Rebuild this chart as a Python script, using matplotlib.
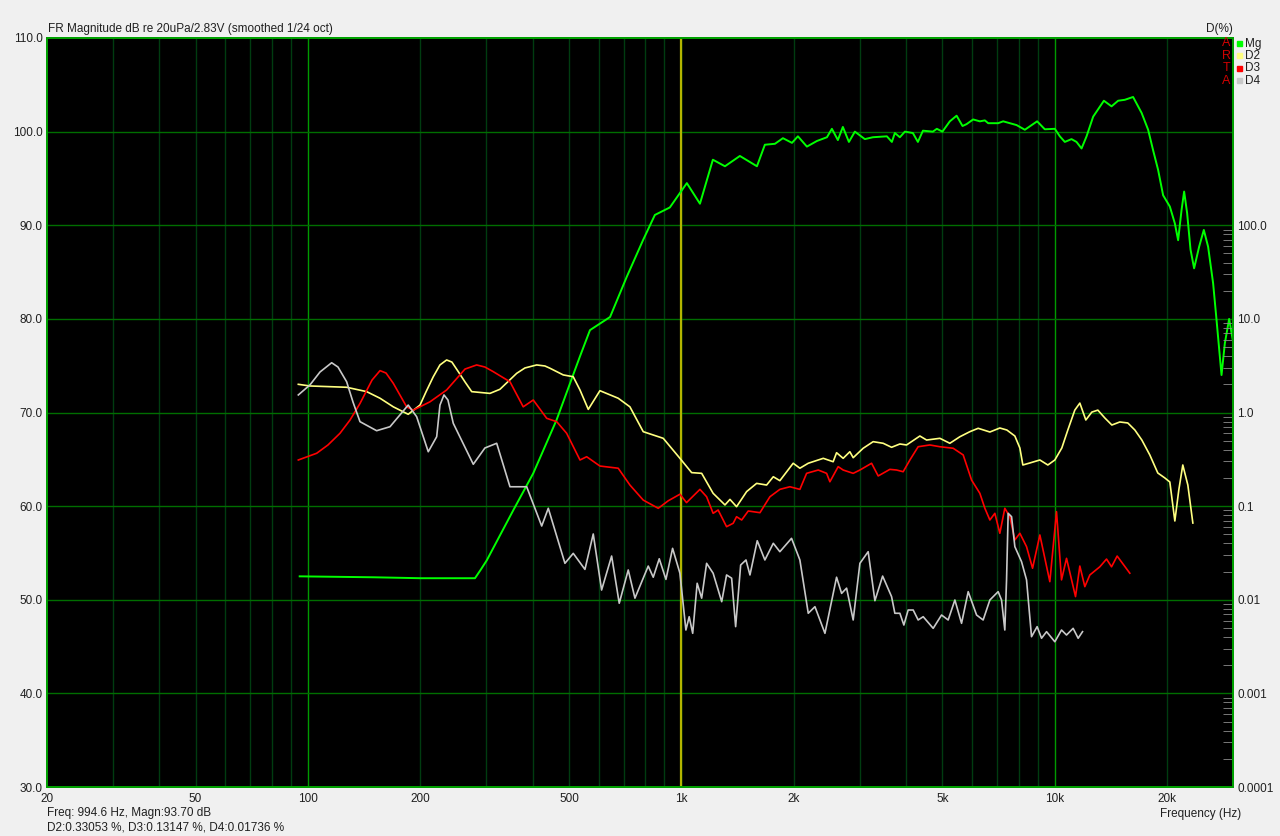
import matplotlib
matplotlib.use('Agg')
import matplotlib.pyplot as plt
from matplotlib.patches import Rectangle
from matplotlib.ticker import NullLocator, FixedLocator

plt.rcParams['font.family'] = ['Liberation Sans', 'DejaVu Sans']

# magnitude response (Hz, dB)
mg_freq = [95, 150, 200, 280, 290, 301, 355, 401, 463, 503, 535, 569, 644, 714, 789, 849, 931, 1034, 1121,
           1214, 1308, 1434, 1593, 1673, 1780, 1870, 1977, 2051, 2168, 2306, 2453, 2529, 2624, 2706,
           2809, 2914, 3099, 3256, 3550, 3661, 3729, 3846, 3967, 4167, 4298, 4434, 4714, 4831, 5000,
           5234, 5457, 5660, 5802, 6043, 6298, 6496, 6629, 7050, 7271, 7898, 8312, 8966, 9401, 10000,
           10313, 10636, 11083, 11430, 11791, 12161, 12666, 13532, 14186, 14774, 15396, 16202, 17075,
           17776, 18333, 18908, 19498, 20322, 20959, 21388, 21840, 22195, 22608, 23087, 23603, 24343,
           25060, 25733, 26539, 27102, 27950, 28530, 29295, 30000]
mg_db = [52.5, 52.4, 52.3, 52.3, 53.2, 54.2, 59.6, 63.5, 69.2, 73.1, 76.0, 78.8, 80.2, 84.5, 88.4, 91.1,
         91.9, 94.5, 92.3, 97.0, 96.3, 97.4, 96.3, 98.6, 98.7, 99.3, 98.8, 99.5, 98.4, 99.0, 99.4,
         100.3, 99.1, 100.5, 98.9, 100.0, 99.2, 99.4, 99.5, 98.9, 99.85, 99.4, 100.0, 99.85, 98.9,
         100.1, 100.0, 100.3, 100.0, 101.1, 101.7, 100.6, 100.8, 101.3, 101.1, 101.2, 100.9, 100.9,
         101.1, 100.7, 100.2, 101.1, 100.25, 100.3, 99.5, 98.9, 99.2, 98.9, 98.2, 99.5, 101.6, 103.3,
         102.7, 103.3, 103.4, 103.7, 102.0, 100.2, 98.0, 95.9, 93.2, 92.0, 90.2, 88.4, 91.6, 93.6,
         91.3, 87.4, 85.4, 87.7, 89.5, 87.7, 83.8, 79.9, 74.0, 77.4, 80.0, 77.6]

# 2nd harmonic distortion (Hz, %)
d2_freq = [94.2, 101.2, 126.9, 143.6, 155.9, 169.2, 185.5, 199.5, 207, 216.5, 225.6, 235.1, 242.8,
           252.6, 263.3, 274.4, 307.1, 326.6, 362.1, 381, 409.6, 431, 444.6, 482.5, 513.2, 535, 563.1,
           605, 677.2, 727.9, 790.2, 894, 990.8, 1065, 1133, 1216, 1308, 1349, 1405, 1495, 1590, 1691,
           1762, 1835, 1992, 2076, 2186, 2398, 2549, 2603, 2711, 2825, 2884, 3067, 3262, 3470, 3654,
           3846, 4008, 4351, 4535, 4922, 5234, 5568, 5922, 6233, 6699, 7124, 7439, 7815, 8060, 8210,
           8572, 9118, 9578, 10000, 10440, 10834, 11310, 11667, 12106, 12562, 13036, 13612, 14212,
           14928, 15681, 16380, 17100, 17962, 18868, 19703, 20322, 20959, 21478, 22013, 22708, 23420]
d2_pct = [2.00, 1.92, 1.86, 1.67, 1.42, 1.15, 0.957, 1.20, 1.66, 2.41, 3.22, 3.64, 3.46, 2.73, 2.12,
          1.67, 1.60, 1.77, 2.62, 2.99, 3.22, 3.14, 2.97, 2.52, 2.41, 1.74, 1.08, 1.71, 1.42, 1.15,
          0.624, 0.530, 0.324, 0.228, 0.224, 0.137, 0.103, 0.118, 0.0986, 0.143, 0.175, 0.168, 0.206,
          0.187, 0.287, 0.254, 0.287, 0.324, 0.298, 0.372, 0.324, 0.381, 0.329, 0.415, 0.488, 0.469,
          0.425, 0.461, 0.450, 0.561, 0.508, 0.530, 0.469, 0.551, 0.624, 0.678, 0.619, 0.683, 0.650,
          0.561, 0.418, 0.275, 0.289, 0.311, 0.275, 0.311, 0.418, 0.650, 1.06, 1.26, 0.832, 1.01,
          1.06, 0.874, 0.735, 0.792, 0.773, 0.650, 0.508, 0.352, 0.226, 0.200, 0.181, 0.0694, 0.149,
          0.275, 0.168, 0.066]

# 3rd harmonic distortion (Hz, %)
d3_freq = [94.2, 105.5, 113.1, 121.8, 129.6, 137.8, 148.4, 155.9, 161.8, 169.2, 183.7, 191.4, 212.1,
           235.1, 263.3, 282.9, 297.7, 313.4, 347.4, 377, 401.1, 435.7, 463.4, 492.7, 535, 557.5, 605,
           677.2, 727.9, 790.2, 866.8, 921.8, 990.8, 1032, 1121, 1168, 1216, 1254, 1321, 1376, 1405,
           1450, 1510, 1623, 1726, 1835, 1952, 2076, 2164, 2325, 2448, 2498, 2629, 2711, 2884, 3006,
           3230, 3365, 3616, 3769, 3925, 4091, 4305, 4627, 4922, 5343, 5683, 5984, 6298, 6496, 6699,
           6908, 7124, 7346, 7577, 7815, 8060, 8399, 8716, 9118, 9696, 10104, 10421, 10747, 11360,
           11667, 12032, 12409, 13199, 13754, 14186, 14684, 15878]
d3_pct = [0.311, 0.367, 0.450, 0.600, 0.832, 1.25, 2.22, 2.80, 2.64, 2.05, 1.15, 1.06, 1.30, 1.74,
          2.91, 3.22, 3.06, 2.73, 2.13, 1.15, 1.36, 0.867, 0.798, 0.600, 0.311, 0.337, 0.268, 0.254,
          0.168, 0.116, 0.0948, 0.114, 0.134, 0.109, 0.151, 0.126, 0.0838, 0.0909, 0.0603, 0.0656,
          0.0771, 0.0711, 0.0887, 0.0851, 0.126, 0.151, 0.161, 0.151, 0.224, 0.243, 0.224, 0.182,
          0.264, 0.243, 0.224, 0.243, 0.287, 0.210, 0.247, 0.243, 0.233, 0.311, 0.431, 0.450, 0.431,
          0.415, 0.352, 0.190, 0.137, 0.0948, 0.0711, 0.0838, 0.0513, 0.0948, 0.0771, 0.0435, 0.0513,
          0.0369, 0.0217, 0.0492, 0.0156, 0.0872, 0.0163, 0.0277, 0.0108, 0.0229, 0.0138, 0.0184,
          0.0225, 0.0272, 0.0225, 0.0293, 0.0192]

# 4th harmonic distortion (Hz, %)
d4_freq = [94.2, 101.2, 107.7, 115.7, 120.3, 126.9, 132, 137.8, 152.7, 165.8, 185.5, 195.4, 209.9,
           221.1, 225.6, 231.3, 237, 244.9, 277.1, 297.7, 320.1, 347.4, 385.1, 422.5, 440, 487.6,
           513.2, 551.6, 580.6, 611.3, 650.3, 681.5, 720.4, 750.8, 815, 840.5, 872.2, 909, 947, 990.8,
           1028, 1049, 1072, 1102, 1133, 1168, 1216, 1282, 1321, 1363, 1397, 1441, 1489, 1526, 1596,
           1673, 1762, 1835, 1972, 2076, 2186, 2278, 2423, 2603, 2685, 2769, 2884, 3006, 3163, 3297,
           3458, 3654, 3729, 3846, 3942, 4048, 4175, 4305, 4441, 4723, 4973, 5180, 5399, 5626, 5861,
           6172, 6427, 6699, 7050, 7199, 7346, 7425, 7499, 7658, 7815, 8144, 8399, 8661, 8966, 9213,
           9502, 10000, 10421, 10747, 11194, 11547, 11862]
d4_pct = [1.54, 1.97, 2.71, 3.40, 3.06, 2.13, 1.29, 0.798, 0.639, 0.705, 1.20, 0.902, 0.381, 0.551,
          1.20, 1.54, 1.36, 0.767, 0.280, 0.418, 0.469, 0.161, 0.161, 0.0613, 0.0948, 0.0245, 0.0313,
          0.0211, 0.0504, 0.0127, 0.0293, 0.00917, 0.0208, 0.0104, 0.0229, 0.0174, 0.0274, 0.0165,
          0.0354, 0.0192, 0.00475, 0.00659, 0.00438, 0.0150, 0.0104, 0.0245, 0.0192, 0.00953, 0.0184,
          0.0170, 0.00516, 0.0235, 0.0266, 0.0184, 0.0427, 0.0266, 0.0401, 0.0326, 0.0453, 0.0266,
          0.00717, 0.00843, 0.00438, 0.0174, 0.0117, 0.0133, 0.00608, 0.0245, 0.0326, 0.00977, 0.0179,
          0.0108, 0.00717, 0.00717, 0.00537, 0.00777, 0.00777, 0.00608, 0.00659, 0.00495, 0.00687,
          0.00608, 0.00994, 0.0056, 0.0122, 0.00687, 0.00608, 0.00994, 0.0122, 0.00994, 0.00475,
          0.0163, 0.0838, 0.0771, 0.0369, 0.0255, 0.0163, 0.00403, 0.00516, 0.00388, 0.00456, 0.00356,
          0.00475, 0.0042, 0.00495, 0.00388, 0.00456]

cursor_freq = 994.6

x_ticks = [20, 50, 100, 200, 500, 1000, 2000, 5000, 10000, 20000]
x_labels = ['20', '50', '100', '200', '500', '1k', '2k', '5k', '10k', '20k']
db_ticks = [30, 40, 50, 60, 70, 80, 90, 100, 110]
pct_ticks = [0.0001, 0.001, 0.01, 0.1, 1, 10, 100]
pct_labels = ['0.0001', '0.001', '0.01', '0.1', '1.0', '10.0', '100.0']

legend_names = ['Mg', 'D2', 'D3', 'D4']
legend_colors = ['#00ff00', '#ffff80', '#ff0000', '#c8c8c8']

W, H = 1280, 836
fig = plt.figure(figsize=(W / 100, H / 100), dpi=100, facecolor='#f0f0f0')
ax = fig.add_axes([47 / W, 1 - 787 / H, (1233 - 47) / W, (787 - 38) / H])
ax.set_facecolor('black')
ax.set_xscale('log')
ax.set_xlim(20, 30000)
ax.set_ylim(30, 110)

# grid: bright green at decades, dark green elsewhere
for dec in [10, 100, 1000, 10000]:
    for k in range(1, 10):
        f = k * dec
        if f <= 20 or f >= 30000:
            continue
        col = '#009a00' if k == 1 else '#003c10'
        ax.axvline(f, color=col, lw=1, zorder=1)
for lev in db_ticks[1:-1]:
    ax.axhline(lev, color='#006e00', lw=1, zorder=1)

ax.axvline(cursor_freq, color='#b4b400', lw=1.6, zorder=2)
ax.plot(mg_freq, mg_db, color=legend_colors[0], lw=1.4, zorder=3)

ax.set_xticks(x_ticks)
ax.set_xticklabels(x_labels)
ax.xaxis.set_minor_locator(NullLocator())
ax.set_yticks(db_ticks)
ax.set_yticklabels(['%.1f' % v for v in db_ticks])
ax.tick_params(axis='both', which='both', length=0, labelsize=8.5, labelcolor='#202020')
ax.tick_params(axis='x', pad=4)
ax.tick_params(axis='y', pad=3)

ax2 = ax.twinx()
ax2.set_yscale('log')
ax2.set_ylim(1e-4, 1e4)
ax2.plot(d2_freq, d2_pct, color=legend_colors[1], lw=1.2)
ax2.plot(d3_freq, d3_pct, color=legend_colors[2], lw=1.2)
ax2.plot(d4_freq, d4_pct, color=legend_colors[3], lw=1.2)
ax2.yaxis.set_major_locator(FixedLocator(pct_ticks))
ax2.set_yticklabels(pct_labels)
minor = [k * 10.0 ** e for e in range(-4, 2) for k in range(2, 10)]
ax2.yaxis.set_minor_locator(FixedLocator(minor))
ax2.yaxis.set_minor_formatter(plt.NullFormatter())
ax2.tick_params(axis='y', which='major', direction='in', length=0, pad=3,
                labelsize=8.5, labelcolor='#202020')
ax2.tick_params(axis='y', which='minor', direction='in', length=7, color='#8c8c8c')

for a in (ax, ax2):
    for sp in a.spines.values():
        sp.set_color('#00a000')
        sp.set_linewidth(1.4)

# texts around the plot
fig.text(48 / W, 1 - 29 / H, 'FR Magnitude dB re 20uPa/2.83V (smoothed 1/24 oct)',
         fontsize=8.5, color='#202020', ha='left', va='center')
fig.text(1233 / W, 1 - 29 / H, 'D(%)', fontsize=8.5, color='#202020', ha='right', va='center')
fig.text(47 / W, 1 - 813 / H, 'Freq: 994.6 Hz, Magn:93.70 dB',
         fontsize=8.5, color='#202020', ha='left', va='center')
fig.text(47 / W, 1 - 827 / H, 'D2:0.33053 %, D3:0.13147 %, D4:0.01736 %',
         fontsize=8.5, color='#202020', ha='left', va='center')
fig.text(1160 / W, 1 - 814 / H, 'Frequency (Hz)', fontsize=8.5, color='#202020',
         ha='left', va='center')

# legend and ARTA mark
for i, (name, col) in enumerate(zip(legend_names, legend_colors)):
    yc = 43.5 + i * 12.4
    fig.add_artist(Rectangle((1237 / W, 1 - (yc + 2.5) / H), 5 / W, 5 / H,
                             transform=fig.transFigure, color=col))
    fig.text(1245 / W, 1 - yc / H, name, fontsize=8.5, color='#202020', ha='left', va='center')
    fig.text(1226.5 / W, 1 - yc / H, 'ARTA'[i], fontsize=9, color='#d00000',
             ha='center', va='center')

fig.savefig('out.png', dpi=100, facecolor=fig.get_facecolor())
